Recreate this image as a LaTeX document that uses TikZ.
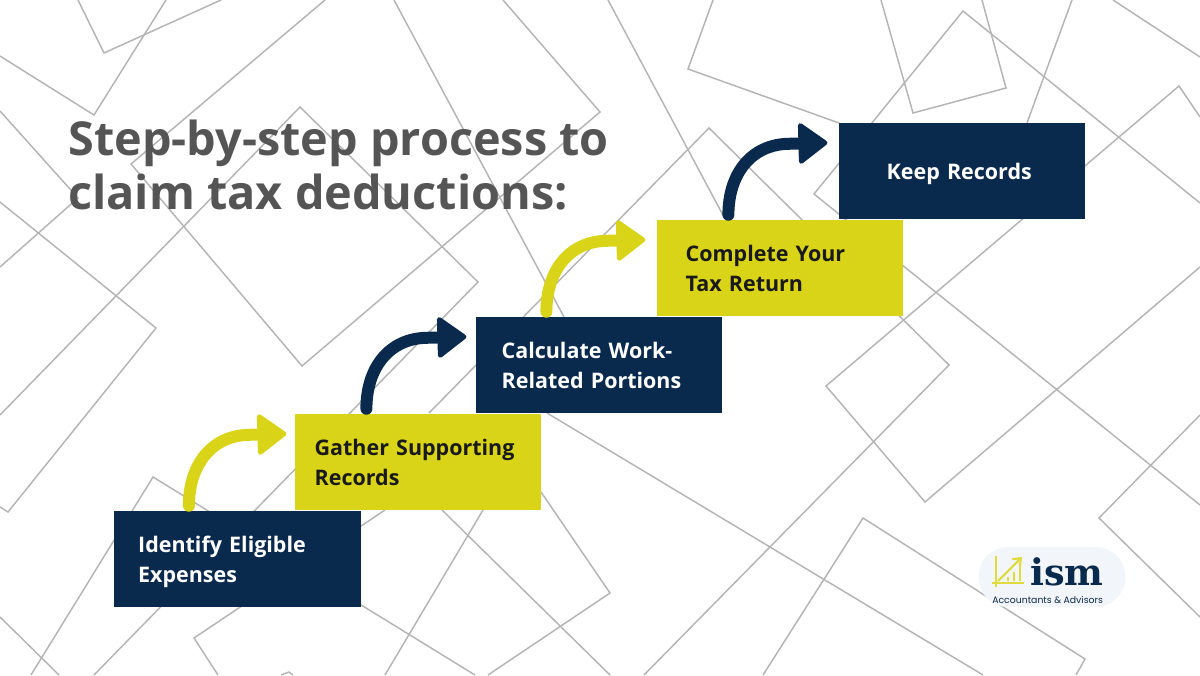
\documentclass[tikz,border=0pt]{standalone}
\usepackage{fontspec}
\setmainfont{Open Sans}
\newfontfamily\logoserif{DejaVu Serif}
\newfontfamily\logosans{Poppins}
\usetikzlibrary{arrows.meta}
\definecolor{navy}{HTML}{0A2A4D}
\definecolor{lime}{HTML}{D9D417}
\definecolor{titlegrey}{HTML}{555555}
\definecolor{linegrey}{HTML}{B4B4B4}
\definecolor{pillblue}{HTML}{F2F5FA}
\tikzset{
  bgline/.style={draw=linegrey, line width=1.1pt, line join=miter},
  stepbox/.style={minimum width=185pt, minimum height=72pt, inner ysep=0pt, inner xsep=#1, text width=185pt-2*#1, align=left, font=\fontsize{16.1}{22.5}\selectfont\bfseries, execute at begin node={\rule{0pt}{18.75pt}}, execute at end node=\strut},
  navybox/.style={stepbox=#1, fill=navy, text=white},
  limebox/.style={stepbox=#1, fill=lime, text=black!90},
  curvearrow/.style={line width=9pt, line cap=round, -{Triangle[round, line width=3.5pt, length=23pt, width=33pt, sep=0pt]}}
}
\begin{document}
\begin{tikzpicture}[x=0.75pt, y=-0.75pt]
        \useasboundingbox (0,0) rectangle (1200,675);
        % background outlines
        \draw[bgline] (78,0) -- (104,53) -- (221,0);
        \draw[bgline] (0,56) -- (94,115) -- (166,0);
        \draw[bgline] (325,0) -- (131,164) -- (302,366) -- (600,112) -- (503,0);
        \draw[bgline] (0,415) -- (300,107) -- (478,282) -- (94,675);
        \draw[bgline] (0,111) -- (78,198) -- (0,267);
        \draw[bgline] (0,202) -- (156,328) -- (8,512) -- (0,507);
        \draw[bgline] (394,0) -- (564,317);
        \draw[bgline] (541,492) -- (610,593) -- (488,675);
        \draw[bgline] (218,675) -- (194,638) -- (385,510);
        \draw[bgline] (31,675) -- (153,477) -- (475,675);
        \draw[bgline] (0,617) -- (59,675);
        \draw[bgline] (281,675) -- (289,672) -- (293,675);
        \draw[bgline] (483,510) -- (385,675);
        \draw[bgline] (442,510) -- (610,675);
        \draw[bgline] (547,413) -- (983,675);
        \draw[bgline] (429,413) -- (709,128) -- (949,365) -- (644,675);
        \draw[bgline] (608,0) -- (724,217);
        \draw[bgline] (713,0) -- (688,69) -- (839,123);
        \draw[bgline] (881,0) -- (913,113) -- (1006,88) -- (982,0);
        \draw[bgline] (1072,0) -- (1027,123);
        \draw[bgline] (1113,0) -- (1200,57);
        \draw[bgline] (1200,203) -- (963,11) -- (814,194) -- (1200,505);
        \draw[bgline] (1200,117) -- (1179,86) -- (826,386) -- (925,502) -- (1200,267);
        \draw[bgline] (763,675) -- (863,518) -- (1085,659) -- (1076,675);
        \draw[bgline] (1200,415) -- (1099,518) -- (1200,617);
        % title
        \node[anchor=north west, inner sep=0pt, align=left, text=titlegrey, font=\fontsize{35.1}{40.5}\selectfont\bfseries] at (68,120) (title) {Step-by-step process to\\claim tax deductions:};
        % steps
        \node[navybox=18pt] at (237.5,559) (identify) {Identify Eligible\\Expenses};
        \node[limebox=15pt] at (418,462) (gather) {Gather Supporting\\Records};
        \node[navybox=19.5pt] at (599,365) (calculate) {Calculate Work-\\Related Portions};
        \node[limebox=21.75pt] at (780,268) (complete) {Complete Your\\Tax Return};
        \node[navybox=36pt] at (962,171) (keep) {Keep Records};
        % arrows between steps
        \draw[curvearrow, lime] ([shift={(75,-5)}]identify.north west) .. controls +(0,-40) and +(-40,0) .. ++(62,-71) -- ([shift={(-8,20)}]gather.north west);
        \draw[curvearrow, navy] ([shift={(72,-5)}]gather.north west) .. controls +(0,-40) and +(-40,0) .. ++(62,-71) -- ([shift={(-9,20)}]calculate.north west);
        \draw[curvearrow, lime] ([shift={(71,-5)}]calculate.north west) .. controls +(0,-40) and +(-40,0) .. ++(62,-71) -- ([shift={(-11,20)}]complete.north west);
        \draw[curvearrow, navy] ([shift={(72,-5)}]complete.north west) .. controls +(0,-40) and +(-40,0) .. ++(62,-71) -- ([shift={(-11,20)}]keep.north west);
        % logo
        \node[fill=pillblue, rounded corners=22pt, minimum width=110pt, minimum height=45pt, inner sep=0pt] at (1052,577) (pill) {};
        \draw[lime!85!white, line width=1.6pt] (996,556) -- (996,587);
        \draw[lime!85!white, line width=1.6pt] (992,583) -- (1024,583);
        \draw[lime!85!white, line width=1.6pt, -{Straight Barb[length=5pt, width=8pt]}] (998,581) -- (1022,557);
        \foreach \barx/\bartop in {1008/577, 1014/572, 1020/566}
            \draw[lime!85!white, line width=1.5pt] (\barx,\bartop) -- (\barx,581);
        \node[anchor=base west, inner sep=0pt, text=navy, font=\logoserif\fontsize{27.5}{28}\selectfont\bfseries] at (1030,585) (ismlogo) {ism};
        \node[anchor=base west, inner sep=0pt, text=navy, font=\logosans\fontsize{7}{8}\selectfont] at (992,603) (ismtag) {Accountants \& Advisors};
    \end{tikzpicture}
\end{document}
